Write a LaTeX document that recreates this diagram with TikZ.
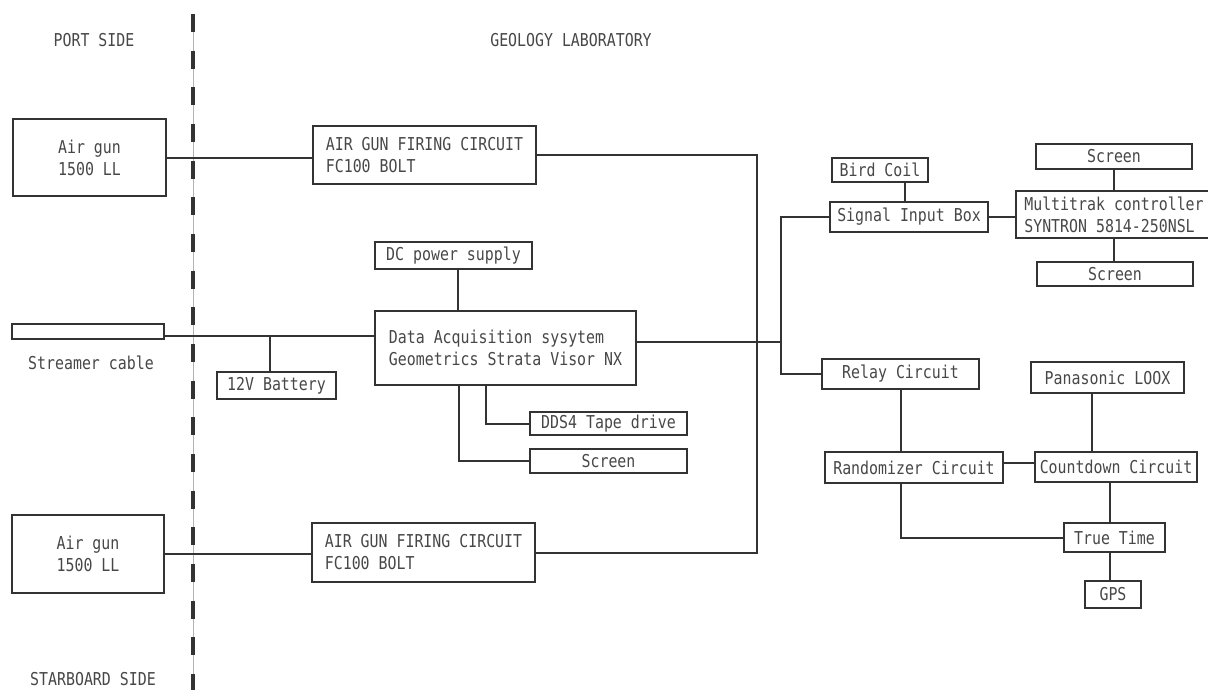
\documentclass[tikz,border=0pt]{standalone}
\usepackage{fontspec}
\setmainfont{DejaVu Sans Mono}[FakeStretch=0.84]
\usepackage{tikz}
\usetikzlibrary{calc, positioning}
\definecolor{ink}{HTML}{333333}
\tikzset{
    x=0.75pt, y=-0.75pt,% one unit is one pixel of the sheet, y runs downwards
    every node/.style = {font=\fontsize{13.3pt}{16.5pt}\selectfont, text=ink!90},
    box/.style = {draw=ink, line width=1.5pt, inner sep=0pt, align=left},
    sz/.style 2 args = {minimum width=#1*0.75pt, minimum height=#2*0.75pt},
    wire/.style = {draw=ink, line width=1.5pt}
}
\begin{document}
\begin{tikzpicture}
        \useasboundingbox (0,0) rectangle (1208,693);

        %labels

        \node(port) at (94,40) {PORT SIDE};
        \node(lab) at (571,40) {GEOLOGY LABORATORY};
        \node(stbd) at (93,679) {STARBOARD SIDE};

        %ship side line

        \draw[gray!60, thin] (193,14) -- (193,690);
        \draw[ink, line width=3pt, dash pattern=on 13.5pt off 14pt] (193,14) -- (193,690);

        %nodes

        \node(gunA)[box, sz={153}{77}, align=center] at (89.5,157.5) {Air gun\\1500 LL};
        \node(firA)[box, sz={223}{58}] at (424.5,155) {AIR GUN FIRING CIRCUIT\\FC100 BOLT};
        \node(gunB)[box, sz={152}{78}, align=center] at (88,554) {Air gun\\1500 LL};
        \node(firB)[box, sz={223}{59}] at (423.5,552.5) {AIR GUN FIRING CIRCUIT\\FC100 BOLT};
        \node(cable)[box, sz={152}{15}] at (88,331.5) {};
        \node(cabtxt) at (91,363) {Streamer cable};
        \node(batt)[box, sz={119}{27}] at (276.5,385.5) {12V Battery};
        \node(dcps)[box, sz={157}{27}] at (453.5,255.5) {DC power supply};
        \node(daq)[box, sz={261}{74}] at (505.5,348) {Data Acquisition sysytem\\Geometrics Strata Visor NX};
        \node(tape)[box, sz={157}{23}] at (608.5,423.5) {DDS4 Tape drive};
        \node(scrA)[box, sz={157}{24}] at (608.5,461) {Screen};
        \node(bird)[box, sz={96}{24}] at (880,170) {Bird Coil};
        \node(sib)[box, sz={158}{30}] at (909,217) {Signal Input Box};
        \node(mtc)[box, sz={196}{47}] at (1114,214.5) {Multitrak controller\\SYNTRON 5814-250NSL};
        \node(scrB)[box, sz={156}{25}] at (1114,156.5) {Screen};
        \node(scrC)[box, sz={156}{24}] at (1115,274) {Screen};
        \node(relay)[box, sz={157}{30}] at (900.5,374) {Relay Circuit};
        \node(loox)[box, sz={153}{31}] at (1107.5,377.5) {Panasonic LOOX};
        \node(rand)[box, sz={178}{31}] at (914,467.5) {Randomizer Circuit};
        \node(cdown)[box, sz={162}{30}] at (1116,467) {Countdown Circuit};
        \node(ttime)[box, sz={101}{29}] at (1114.5,537.5) {True Time};
        \node(gps)[box, sz={56}{27}] at (1113,594.5) {GPS};

        %tap points

        \coordinate(busL) at (757,0);
        \coordinate(busR) at (781,0);
        \coordinate(sline) at (0,336);
        \coordinate(battT) at ($(batt.north)+(-7,0)$);
        \coordinate(dcpsB) at ($(dcps.south)+(4.5,0)$);
        \coordinate(daqR) at ($(daq.east)+(0,-6)$);
        \coordinate(birdJ) at ($(sib.north)+(-4,0)$);
        \coordinate(looxB) at ($(loox.south)+(-15.5,0)$);
        \coordinate(randR) at ($(rand.east)+(0,-5)$);
        \coordinate(ttimeT) at ($(ttime.north)+(-4.5,0)$);
        \coordinate(ttimeB) at ($(ttime.south)+(-4.5,0)$);

        %connections

        \draw[wire] (gunA.east) -- (gunA.east -| firA.west);
        \draw[wire] (gunB.east) -- (gunB.east -| firB.west);
        \draw[wire] (firA.east) -- (firA.east -| busL) |- (firB.east);
        \draw[wire] (cable.east |- sline) -- (daq.west |- sline);
        \draw[wire] (battT) -- (battT |- sline);
        \draw[wire] (dcpsB) -- (dcpsB |- daq.north);
        \draw[wire] (daqR) -- (daqR -| busR);
        \draw[wire] ($(daq.south)+(-19.5,0)$) |- (tape.west);
        \draw[wire] ($(daq.south)+(-46.5,0)$) |- (scrA.west);
        \draw[wire] (sib.west) -- (sib.west -| busR) |- (relay.west);
        \draw[wire] (birdJ) -- (birdJ |- bird.south);
        \draw[wire] (sib.east) -- (sib.east -| mtc.west);
        \draw[wire] (scrB.south) -- (scrB.south |- mtc.north);
        \draw[wire] (mtc.south) -- (mtc.south |- scrC.north);
        \draw[wire] (relay.south) -- (relay.south |- rand.north);
        \draw[wire] (looxB) -- (looxB |- cdown.north);
        \draw[wire] (randR) -- (randR -| cdown.west);
        \draw[wire] (ttimeT) -- (ttimeT |- cdown.south);
        \draw[wire] (relay.south |- rand.south) |- (ttime.west);
        \draw[wire] (ttimeB) -- (ttimeB |- gps.north);
    \end{tikzpicture}
\end{document}
